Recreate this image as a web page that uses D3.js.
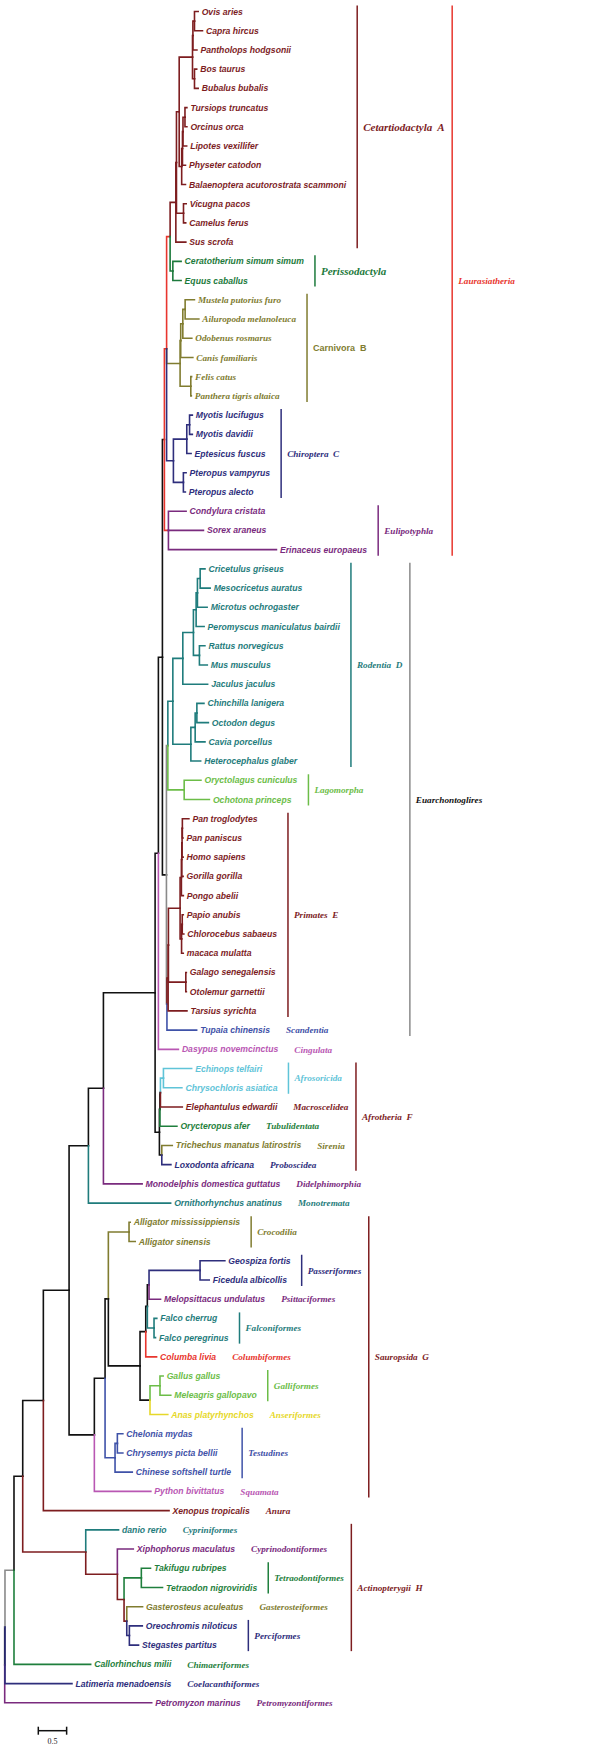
<!DOCTYPE html>
<html><head><meta charset="utf-8">
<script src="https://cdn.jsdelivr.net/npm/d3@7"></script>
<style>body{margin:0;background:#fff}svg{display:block}text{white-space:pre}</style>
</head><body><svg id="chart" width="609" height="1749"></svg>
<script>
// ---------------- DATA ----------------
// Tree topology with branch lengths (substitutions per site), Newick pieces
const cetartiodactyla = "((((((Ovis aries:0.065,Capra hircus:0.141)B0:0.028,Pantholops hodgsonii:0.071)B1:0.007,(Bos taurus:0.039,Bubalus bubalis:0.065)B2:0.035)Bovidae:0.235,((((Tursiops truncatus:0.034,Orcinus orca:0.034)Delph:0.035,Lipotes vexillifer:0.065)D2:0.009,Physeter catodon:0.053)Odonto:0.014,Balaenoptera acutorostrata scammoni:0.067)Cetacea:0.044)Cetruminantia:0.048,(Vicugna pacos:0.048,Camelus ferus:0.039)Camelidae:0.124)Ce1:0.011,Sus scrofa:0.176)Cetart:0.101";
const perissodactyla = "(Ceratotherium simum simum:0.146,Equus caballus:0.146)Perisso:0.048";
const carnivora = "((((Mustela putorius furo:0.164,Ailuropoda melanoleuca:0.242)C3:0.041,Odobenus rosmarus:0.159)C2:0.037,Canis familiaris:0.214)C1:0.011,(Felis catus:0.014,Panthera tigris altaica:0.009)Feli:0.189)Carnivora:0.238";
const chiroptera = "(((Myotis lucifugus:0.049,Myotis davidii:0.049)Myotis:0.049,Eptesicus fuscus:0.076)Vesper:0.236,(Pteropus vampyrus:0.048,Pteropus alecto:0.035)Pteropus:0.176)Chiroptera:0.120";
const eulipotyphla = "(Condylura cristata:0.312,Sorex araneus:0.618,Erinaceus europaeus:1.906)Eulip:0.071";
const laurasiatheria = "(((" + cetartiodactyla + "," + perissodactyla + ")X4:0.062," + carnivora + "," + chiroptera + ")X1:0.039," + eulipotyphla + ")Laur:0.035";
const rodentia = "((((((Cricetulus griseus:0.085,Mesocricetus auratus:0.176)Cr1:0.048,Microtus ochrogaster:0.171)Cr2:0.023,Peromyscus maniculatus bairdii:0.141)Cr3:0.048,(Rattus norvegicus:0.097,Mus musculus:0.139)Murinae:0.106)Muroidea:0.187,Jaculus jaculus:0.438)Myodonta:0.176,(((Chinchilla lanigera:0.125,Octodon degus:0.203)Hy1:0.030,Cavia porcellus:0.173)Hy2:0.076,Heterocephalus glaber:0.173)Hy3:0.318)Rodentia:0.088";
const lagomorpha = "(Oryctolagus cuniculus:0.296,Ochotona princeps:0.445)Lagomorpha:0.288";
const primates = "(((((((Pan troglodytes:0.115,Pan paniscus:0.012)H1:0.005,Homo sapiens:0.018)H2:0.005,Gorilla gorilla:0.023)H3:0.007,Pongo abelii:0.034)H4:0.023,((Papio anubis:0.018,Chlorocebus sabaeus:0.028)Cer1:0.012,macaca mulatta:0.030)Cer2:0.026)Anthropoidea:0.206,(Galago senegalensis:0.009,Otolemur garnettii:0.009)Strep:0.307)P1:0.005,Tarsius syrichta:0.332)Primates:0.021";
const euarchontoglires = "((" + rodentia + "," + lagomorpha + ")Glires:0.025,(" + primates + ",Tupaia chinensis:0.524)Euarchonta:0.009)Euarch:0.071";
const afrotheria = "((((Echinops telfairi:0.498,Chrysochloris asiatica:0.326)Afrosoricida:0.053,Elephantulus edwardii:0.386)A2:0.009,Orycteropus afer:0.300)A1:0.009,(Trichechus manatus latirostris:0.185,Loxodonta africana:0.161)Pae:0.042)A0:0.076";
const mammalia = "(((((" + laurasiatheria + "," + euarchontoglires + ")Boreo:0.071,Dasypus novemcinctus:0.353)XB:0.058," + afrotheria + ")Eutheria:0.912,Monodelphis domestica guttatus:0.683)Theria:0.265,Ornithorhynchus anatinus:1.451)Mammalia:0.341";
const aves = "(((((Geospiza fortis:0.438,Ficedula albicollis:0.162)Passeriformes:0.900,Melopsittacus undulatus:0.203)P:0.030,(Falco cherrug:0.049,Falco peregrinus:0.026)Falcons:0.118)Q:0.028,Columba livia:0.191)R:0.101,((Gallus gallus:0.056,Meleagris gallopavo:0.191)Galliformes:0.176,Anas platyrhynchos:0.314)Galloanserae:0.176)Birds:0.559";
const sauropsida = "((((Alligator mississippiensis:0.021,Alligator sinensis:0.109)Crocodilia:0.365," + aves + ")Archosauria:0.058,((Chelonia mydas:0.097,Chrysemys picta bellii:0.097)T2:0.041,Chinese softshell turtle:0.304)T1:0.176)Archelosauria:0.189,Python bivittatus:0.997)S:0.446";
const actinopterygii = "(danio rerio:0.579,(Xiphophorus maculatus:0.281,((Takifugu rubripes:0.162,Tetraodon nigroviridis:0.374)Tetraodontiformes:0.305,(Gasterosteus aculeatus:0.279,(Oreochromis niloticus:0.228,Stegastes partitus:0.162)Perciformes:0.046)F4:0.048)F3:0.118)F2:0.558)Fish:1.112";
const newick = "((((((" + mammalia + "," + sauropsida + ")Amniota:0.454,Xenopus tropicalis:2.218)Tetrapoda:0.364," + actinopterygii + ")N2:0.154,Callorhinchus milii:1.353)N1:0.159,Latimeria menadoensis:1.182)X:0.005,Petromyzon marinus:2.594)root;";

// Branch colour of a node (inherited by descendants unless overridden)
const branchColors = [
  ["X","black"],["N1","grey"],["Latimeria menadoensis","navy"],["Petromyzon marinus","purple"],
  ["N2","black"],["Callorhinchus milii","dgreen"],["Fish","maroon"],["danio rerio","teal"],
  ["Xiphophorus maculatus","purple"],["Tetraodontiformes","dgreen"],["Gasterosteus aculeatus","olive"],
  ["Perciformes","navy"],["Xenopus tropicalis","maroon"],["Ornithorhynchus anatinus","teal"],
  ["Monodelphis domestica guttatus","purple"],["Dasypus novemcinctus","pink"],["X1","red"],["Eulip","red"],
  ["Condylura cristata","purple"],["Sorex araneus","purple"],["Erinaceus europaeus","purple"],
  ["Cetart","maroon"],["Perisso","green"],["Carnivora","olive"],["Chiroptera","navy"],
  ["Glires","grey"],["Rodentia","teal"],["Lagomorpha","lime"],["Euarchonta","grey"],["Primates","maroon"],
  ["Tupaia chinensis","blue"],["Afrosoricida","cyan"],["Elephantulus edwardii","maroon"],
  ["Orycteropus afer","dgreen"],["Trichechus manatus latirostris","olive"],["Loxodonta africana","navy"],
  ["Python bivittatus","pink"],["T1","blue"],["Crocodilia","olive"],["Passeriformes","navy"],
  ["Melopsittacus undulatus","purple"],["Falcons","teal"],["Columba livia","red"],
  ["Galliformes","lime"],["Anas platyrhynchos","yellow"]
];

// Leaves whose names are set in serif type
const serifLeaves = ["Mustela putorius furo","Ailuropoda melanoleuca","Odobenus rosmarus","Canis familiaris","Felis catus","Panthera tigris altaica"];

// Order-level clades with a bar: [label, colour, first leaf, last leaf]
const orderClades = [
  ["Cetartiodactyla  A","maroon","Ovis aries","Sus scrofa"],
  ["Perissodactyla","green","Ceratotherium simum simum","Equus caballus"],
  ["Carnivora  B","olive","Mustela putorius furo","Panthera tigris altaica"],
  ["Chiroptera  C","navy","Myotis lucifugus","Pteropus alecto"],
  ["Eulipotyphla","purple","Condylura cristata","Erinaceus europaeus"],
  ["Rodentia  D","teal","Cricetulus griseus","Heterocephalus glaber"],
  ["Lagomorpha","lime","Oryctolagus cuniculus","Ochotona princeps"],
  ["Primates  E","maroon","Pan troglodytes","Tarsius syrichta"],
  ["Afrosoricida","cyan","Echinops telfairi","Chrysochloris asiatica"],
  ["Crocodilia","olive","Alligator mississippiensis","Alligator sinensis"],
  ["Passeriformes","navy","Geospiza fortis","Ficedula albicollis"],
  ["Falconiformes","teal","Falco cherrug","Falco peregrinus"],
  ["Galliformes","lime","Gallus gallus","Meleagris gallopavo"],
  ["Testudines","blue","Chelonia mydas","Chinese softshell turtle"],
  ["Tetraodontiformes","dgreen","Takifugu rubripes","Tetraodon nigroviridis"],
  ["Perciformes","navy","Oreochromis niloticus","Stegastes partitus"]
];

// Orders represented by a single leaf: [leaf, label]
const singleOrders = [
  ["Tupaia chinensis","Scandentia"],["Dasypus novemcinctus","Cingulata"],
  ["Elephantulus edwardii","Macroscelidea"],["Orycteropus afer","Tubulidentata"],
  ["Trichechus manatus latirostris","Sirenia"],["Loxodonta africana","Proboscidea"],
  ["Monodelphis domestica guttatus","Didelphimorphia"],["Ornithorhynchus anatinus","Monotremata"],
  ["Melopsittacus undulatus","Psittaciformes"],["Columba livia","Columbiformes"],
  ["Anas platyrhynchos","Anseriformes"],["Python bivittatus","Squamata"],
  ["Xenopus tropicalis","Anura"],["danio rerio","Cypriniformes"],
  ["Xiphophorus maculatus","Cyprinodontiformes"],["Gasterosteus aculeatus","Gasterosteiformes"],
  ["Callorhinchus milii","Chimaeriformes"],["Latimeria menadoensis","Coelacanthiformes"],
  ["Petromyzon marinus","Petromyzontiformes"]
];

// Higher clades: [label, bar colour, label colour, first leaf, last leaf]
const superClades = [
  ["Laurasiatheria","red","red","Ovis aries","Erinaceus europaeus"],
  ["Euarchontoglires","grey","black","Cricetulus griseus","Tupaia chinensis"],
  ["Afrotheria  F","maroon","maroon","Echinops telfairi","Loxodonta africana"],
  ["Sauropsida  G","maroon","maroon","Alligator mississippiensis","Python bivittatus"],
  ["Actinopterygii  H","maroon","maroon","danio rerio","Stegastes partitus"]
];

const scaleBarLength = 0.5;

// ---------------- STYLE ----------------
const palette = {black:"#111111",grey:"#8a8a8a",maroon:"#7d1d1f",red:"#e8362e",green:"#1d7a3c",
  olive:"#807c30",navy:"#2e2e7c",purple:"#7a2b7e",teal:"#1f7c7c",lime:"#6cbd48",blue:"#3f52a8",
  pink:"#b957b3",cyan:"#5fc4d8",yellow:"#e6d82a",dgreen:"#1f7f3d"};
const SANS = "'Liberation Sans', Arial, sans-serif";
const SERIF = "'Liberation Serif', 'Times New Roman', serif";
const cladeFont = {
  "Cetartiodactyla  A": {family: SERIF, size: 11, style: "italic"},
  "Perissodactyla": {family: SERIF, size: 11, style: "italic"},
  "Carnivora  B": {family: SANS, size: 9, style: "normal"}
};

// ---------------- PARSE ----------------
function parseNewick(s) {
  let i = 0;
  function node() {
    const n = {name: "", length: 0, children: null};
    if (s[i] === "(") {
      i++; n.children = [node()];
      while (s[i] === ",") { i++; n.children.push(node()); }
      i++; // ')'
    }
    let name = "";
    while (i < s.length && !",():;".includes(s[i])) name += s[i++];
    n.name = name.trim();
    if (s[i] === ":") {
      i++; let num = "";
      while (i < s.length && !",();".includes(s[i])) num += s[i++];
      n.length = +num;
    }
    return n;
  }
  return node();
}

const root = d3.hierarchy(parseNewick(newick), d => d.children);
root.eachBefore(d => { d.dist = d.parent ? d.parent.dist + d.data.length : 0; });
const leaves = root.leaves();
const leafNames = leaves.map(d => d.data.name);
const leafIndex = new Map(leafNames.map((n, i) => [n, i]));

const xScale = d3.scaleLinear().domain([0, 1]).range([4.7, 4.7 + 56.67]);
const yScale = d3.scalePoint().domain(leafNames).range([11.5, 1702.8]);

root.eachAfter(d => {
  d.px = xScale(d.dist);
  d.py = d.children ? (d.children[0].py + d.children[d.children.length - 1].py) / 2 : yScale(d.data.name);
});
const colorMap = new Map(branchColors);
root.eachBefore(d => {
  d.col = colorMap.get(d.data.name) || (d.parent ? d.parent.col : "black");
});

// ---------------- DRAW ----------------
const svg = d3.select("#chart");
svg.append("rect").attr("width", 609).attr("height", 1749).attr("fill", "#fff");

const gLinks = svg.append("g").attr("fill", "none").attr("stroke-width", 1.6).attr("stroke-linecap", "square");
gLinks.selectAll("path").data(root.descendants().filter(d => d.parent))
  .join("path")
  .attr("d", d => `M${d.parent.px},${d.parent.py}V${d.py}H${d.px}`)
  .attr("stroke", d => palette[d.col]);

const rightEnd = new Map(); // leaf name -> rightmost x of annotation on that row
const gLeaf = svg.append("g").attr("font-weight", "bold").attr("font-style", "italic");
gLeaf.selectAll("text").data(leaves).join("text")
  .attr("x", d => d.px + 3.5)
  .attr("y", d => d.py)
  .attr("dy", "0.35em")
  .attr("font-family", d => serifLeaves.includes(d.data.name) ? SERIF : SANS)
  .attr("font-size", d => serifLeaves.includes(d.data.name) ? 9.2 : 8.65)
  .attr("fill", d => palette[d.col])
  .text(d => d.data.name)
  .each(function(d) { d.labelEnd = d.px + 3.5 + this.getComputedTextLength(); rightEnd.set(d.data.name, d.labelEnd); });

const leafByName = new Map(leaves.map(d => [d.data.name, d]));
function rangeLeaves(a, b) { return leafNames.slice(leafIndex.get(a), leafIndex.get(b) + 1); }

const gAnn = svg.append("g").attr("font-weight", "bold");

// single-leaf order labels
singleOrders.forEach(([leaf, label]) => {
  const L = leafByName.get(leaf);
  const t = gAnn.append("text").attr("x", L.labelEnd + 16).attr("y", L.py).attr("dy", "0.35em")
    .attr("font-family", SERIF).attr("font-style", "italic").attr("font-size", 9.2)
    .attr("fill", palette[L.col]).text(label);
  rightEnd.set(leaf, Math.max(rightEnd.get(leaf), L.labelEnd + 16 + t.node().getComputedTextLength()));
});

// order clades with bars
orderClades.forEach(([label, col, a, b]) => {
  const names = rangeLeaves(a, b);
  const maxEnd = d3.max(names, n => leafByName.get(n).labelEnd);
  const bx = maxEnd + 11;
  const y0 = yScale(a) - 6, y1 = yScale(b) + 6;
  gAnn.append("line").attr("x1", bx).attr("x2", bx).attr("y1", y0).attr("y2", y1)
    .attr("stroke", palette[col]).attr("stroke-width", 1.5);
  const f = cladeFont[label] || {family: SERIF, size: 9.2, style: "italic"};
  const t = gAnn.append("text").attr("x", bx + 6).attr("y", (yScale(a) + yScale(b)) / 2).attr("dy", "0.35em")
    .attr("font-family", f.family).attr("font-size", f.size).attr("font-style", f.style)
    .attr("fill", palette[col]).text(label);
  const end = bx + 6 + t.node().getComputedTextLength();
  names.forEach(n => rightEnd.set(n, Math.max(rightEnd.get(n), end)));
});

// higher clades
superClades.forEach(([label, barCol, txtCol, a, b]) => {
  const names = rangeLeaves(a, b);
  const bx = d3.max(names, n => rightEnd.get(n)) + 7.5;
  gAnn.append("line").attr("x1", bx).attr("x2", bx).attr("y1", yScale(a) - 6).attr("y2", yScale(b) + 6)
    .attr("stroke", palette[barCol]).attr("stroke-width", 1.5);
  gAnn.append("text").attr("x", bx + 6).attr("y", (yScale(a) + yScale(b)) / 2).attr("dy", "0.35em")
    .attr("font-family", SERIF).attr("font-style", "italic").attr("font-size", 9.2)
    .attr("fill", palette[txtCol]).text(label);
});

// scale bar
const sbX = 38.3, sbY = 1730.7, sbW = xScale(scaleBarLength) - xScale(0);
const gScale = svg.append("g").attr("stroke", "#111").attr("stroke-width", 1.5);
gScale.append("line").attr("x1", sbX).attr("x2", sbX + sbW).attr("y1", sbY).attr("y2", sbY);
gScale.append("line").attr("x1", sbX).attr("x2", sbX).attr("y1", sbY - 4).attr("y2", sbY + 4);
gScale.append("line").attr("x1", sbX + sbW).attr("x2", sbX + sbW).attr("y1", sbY - 4).attr("y2", sbY + 4);
svg.append("text").attr("x", sbX + sbW / 2).attr("y", sbY + 13).attr("text-anchor", "middle")
  .attr("font-family", SERIF).attr("font-size", 8).attr("fill", "#222").text(String(scaleBarLength));
</script></body></html>
